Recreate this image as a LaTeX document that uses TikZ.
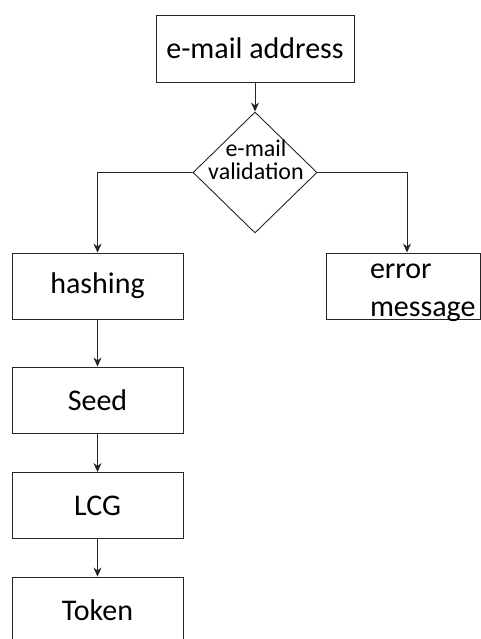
\documentclass[tikz,border=0pt]{standalone}
\usepackage{fontspec}
\setmainfont{Carlito}
\usetikzlibrary{shapes.geometric,arrows.meta,calc}
\definecolor{linecol}{gray}{0.15}
\begin{document}
\begin{tikzpicture}[x=1pt,y=-1pt,line width=0.9pt,
  box/.style={draw=linecol,minimum width=171pt,minimum height=66pt,inner sep=0pt,font=\fontsize{30}{34}\selectfont},
  arr/.style={draw=linecol,-{Stealth[length=9pt,width=8pt]}}]
\useasboundingbox (0,0) rectangle (481,639);
\clip (0,0) rectangle (481,639);
\node[box,minimum width=198pt,minimum height=67pt] (email) at (255,48.5) {e-mail address};
\node[diamond,draw=linecol,minimum width=124pt,minimum height=121pt,inner sep=0pt] (valid) at (255,172.5) {};
\node[align=center,font=\fontsize{24}{23}\selectfont,inner sep=0pt] (validtxt) at (256,160) {e-mail\\validation};
\node[box] (hash) at (97.5,286) {hashing};
\node[box,minimum width=154pt] (err) at (403,286) {};
\node[anchor=base west,align=left,inner sep=0pt,font=\fontsize{30}{38}\selectfont] (errtxt) at ($(err.north west)+(44,64)$) {error\\message};
\node[box] (seed) at (97.5,400) {Seed};
\node[box] (lcg) at (97.5,505.5) {LCG};
\node[box] (token) at (97.5,610) {Token};
\coordinate (errin) at ($(err.north)+(4,0)$);
\draw[arr] (email.south) -- (valid.north);
\draw[arr] (valid.west) -| (hash.north);
\draw[arr] (valid.east) -| (errin);
\draw[arr] (hash.south) -- (seed.north);
\draw[arr] (seed.south) -- (lcg.north);
\draw[arr] (lcg.south) -- (token.north);
\end{tikzpicture}
\end{document}
